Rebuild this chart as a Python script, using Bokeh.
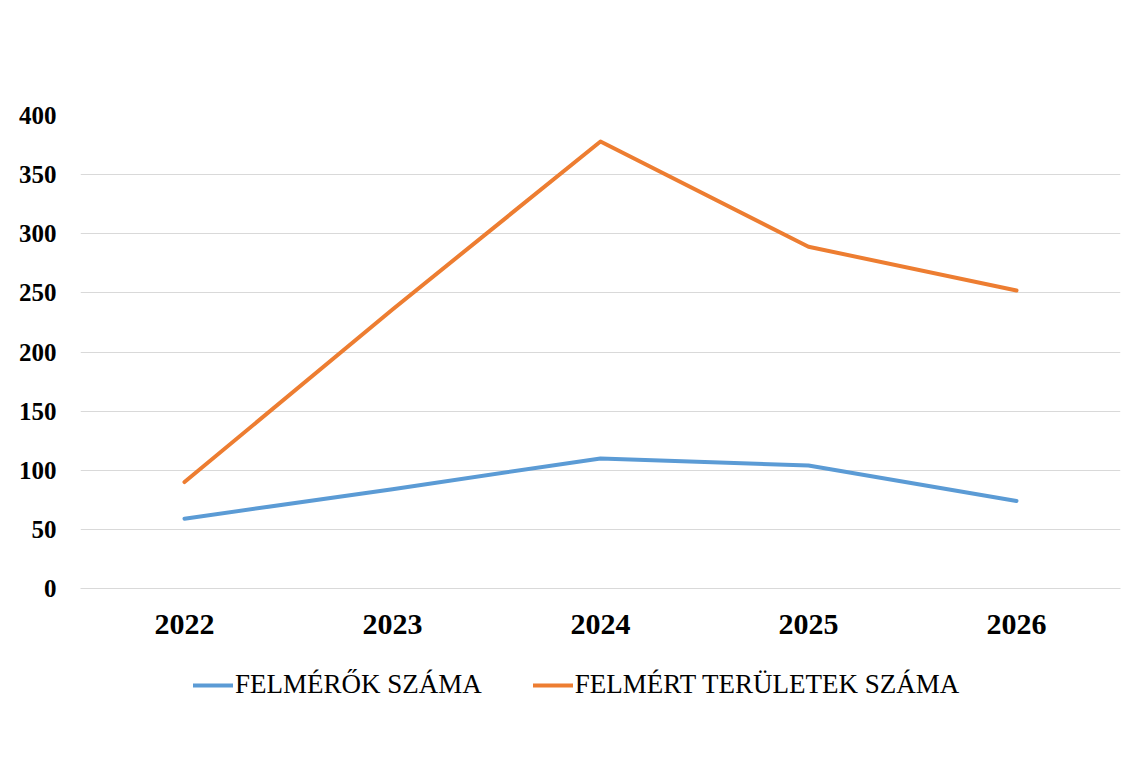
from bokeh.plotting import figure
from bokeh.layouts import column
from bokeh.models import Range1d, FactorRange, FixedTicker, Legend, LegendItem, ColumnDataSource
from bokeh.embed import file_html
from bokeh.resources import INLINE

years = ["2022", "2023", "2024", "2025", "2026"]
felmerok = [59, 84, 110, 104, 74]
teruletek = [90, 236, 378, 289, 252]
series_names = ["FELMÉRŐK SZÁMA", "FELMÉRT TERÜLETEK SZÁMA"]
y_ticks = [0, 50, 100, 150, 200, 250, 300, 350, 400]

BLUE = "#5B9BD5"
ORANGE = "#ED7D31"
FONT = "Liberation Serif"

src = ColumnDataSource(dict(x=years, a=felmerok, b=teruletek))

# main chart
p = figure(width=1132, height=650, x_range=FactorRange(*years), y_range=Range1d(0, 400),
           output_backend="svg", toolbar_location=None,
           min_border_left=80, min_border_right=12, min_border_top=115, min_border_bottom=62)
p.outline_line_color = None
p.background_fill_color = "white"
p.border_fill_color = "white"

p.line("x", "a", source=src, line_color=BLUE, line_width=4, line_join="round", line_cap="round")
p.line("x", "b", source=src, line_color=ORANGE, line_width=4, line_join="round", line_cap="round")

p.xgrid.grid_line_color = None
p.ygrid.grid_line_color = "#D9D9D9"
p.ygrid.grid_line_width = 1.2
p.yaxis.ticker = FixedTicker(ticks=y_ticks)
p.yaxis.axis_line_color = None
p.yaxis.major_tick_line_color = None
p.yaxis.minor_tick_line_color = None
p.yaxis.major_label_text_font = FONT
p.yaxis.major_label_text_font_style = "bold"
p.yaxis.major_label_text_font_size = "25px"
p.yaxis.major_label_text_color = "black"
p.yaxis.major_label_standoff = 18

p.xaxis.axis_line_color = "#D9D9D9"
p.xaxis.axis_line_width = 1.2
p.xaxis.major_tick_line_color = None
p.xaxis.minor_tick_line_color = None
p.xaxis.major_label_text_font = FONT
p.xaxis.major_label_text_font_style = "bold"
p.xaxis.major_label_text_font_size = "30px"
p.xaxis.major_label_text_color = "black"
p.xaxis.major_label_standoff = 20

# legend strip below the chart
q = figure(width=1132, height=100, x_range=FactorRange(*years), y_range=Range1d(1000, 1100),
           output_backend="svg", toolbar_location=None,
           x_axis_location=None, y_axis_location=None, min_border=0)
q.outline_line_color = None
q.xgrid.grid_line_color = None
q.ygrid.grid_line_color = None
q.background_fill_color = "white"
q.border_fill_color = "white"
l1 = q.line("x", "a", source=src, line_color=BLUE, line_width=4, line_cap="round")
l2 = q.line("x", "b", source=src, line_color=ORANGE, line_width=4, line_cap="round")

legend = Legend(items=[LegendItem(label=series_names[0], renderers=[l1]),
                       LegendItem(label=series_names[1], renderers=[l2])],
                orientation="horizontal", location=(113, 50), margin=0, padding=0,
                border_line_color=None, background_fill_alpha=0,
                glyph_width=40, glyph_height=20, label_height=20, label_standoff=2, spacing=51,
                label_text_font=FONT, label_text_font_size="27px", label_text_color="black")
q.add_layout(legend, "center")

layout = column(p, q, spacing=0)
open("out.html", "w").write(file_html(layout, INLINE))
